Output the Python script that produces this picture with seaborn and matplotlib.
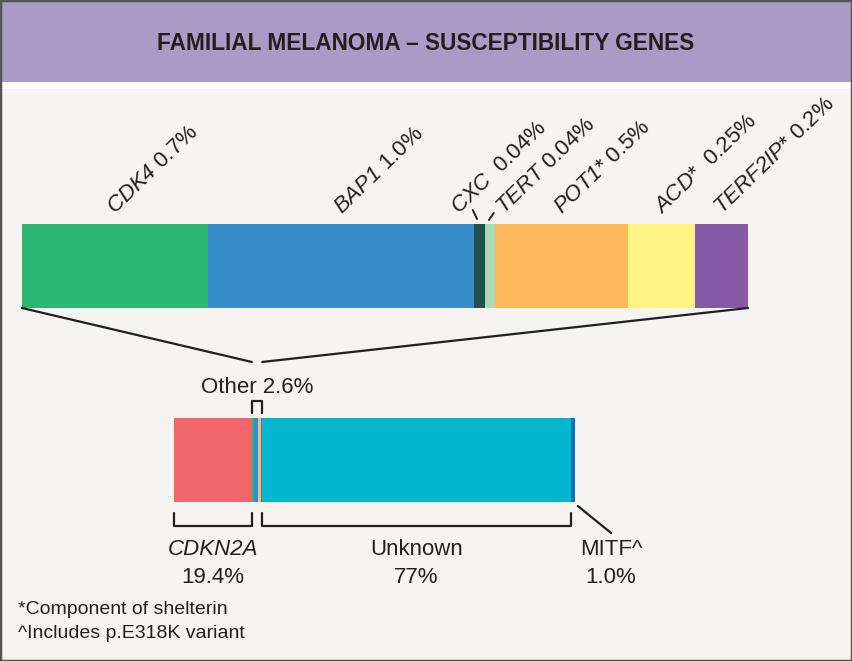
import numpy as np
import pandas as pd
import matplotlib
matplotlib.use("Agg")
import matplotlib.pyplot as plt
import seaborn as sns
from matplotlib.patches import Rectangle, ConnectionPatch

# data
top_genes = ["CDK4", "BAP1", "CXC", "TERT", "POT1", "ACD", "TERF2IP"]
top_marks = ["", "", "", "", "*", "*", "*"]
top_pct = [0.7, 1.0, 0.04, 0.04, 0.5, 0.25, 0.2]
top_pct_text = ["0.7%", "1.0%", "0.04%", "0.04%", "0.5%", "0.25%", "0.2%"]
top_colors = ["#2bb673", "#368bc9", "#22504d", "#a8d9b9", "#feb95b", "#fff385", "#8659a6"]

bottom_groups = ["CDKN2A", "Other", "Unknown", "MITF"]
bottom_pct = [19.4, 2.6, 77, 1.0]
bottom_pct_text = ["19.4%", "2.6%", "77%", "1.0%"]
bottom_colors = ["#f1666a", "#00b7cd", "#0a6fbd"]  # CDKN2A, Unknown, MITF

footnotes = ["*Component of shelterin", "^Includes p.E318K variant"]

sns.set_style("white")
plt.rcParams["font.family"] = ["Liberation Sans", "DejaVu Sans"]
# math parts are only used for gene names -> all italic, digits too
plt.rcParams["mathtext.fontset"] = "custom"
plt.rcParams["mathtext.it"] = "Liberation Sans:italic"
plt.rcParams["mathtext.rm"] = "Liberation Sans:italic"

BG = "#f5f4f0"
INK = "#231f20"
W, H = 852, 661

fig = plt.figure(figsize=(W / 100, H / 100), dpi=100, facecolor=BG)


def stacked_bar(ax, values, colors):
    ends = np.cumsum(values)
    # draw the cumulative totals from longest to shortest so they stack
    for end, c in reversed(list(zip(ends, colors))):
        sns.barplot(x=[end], y=["bar"], color=c, width=1, saturation=1,
                    linewidth=0, ax=ax)
    ax.set_xlim(0, ends[-1])
    ax.set_ylim(0.5, -0.5)
    ax.axis("off")
    return ends


# top bar: breakdown of "Other"
ax_top = fig.add_axes([22 / W, 1 - 308 / H, 726 / W, 84 / H])
top_ends = stacked_bar(ax_top, top_pct, top_colors)
top_starts = top_ends - np.array(top_pct)

# bottom bar: all susceptibility, "Other" split in the same colours
other_split = np.array(top_pct) / sum(top_pct) * bottom_pct[1]
bot_vals = [bottom_pct[0]] + list(other_split) + bottom_pct[2:]
bot_cols = [bottom_colors[0]] + top_colors + bottom_colors[1:]
ax_bot = fig.add_axes([174 / W, 1 - 502 / H, 401 / W, 84 / H])
stacked_bar(ax_bot, bot_vals, bot_cols)
bot_ends = np.cumsum(bottom_pct)
bot_starts = bot_ends - np.array(bottom_pct)

# header band
fig.add_artist(Rectangle((0, 1 - 82 / H), 1, 82 / H, transform=fig.transFigure,
                         facecolor="#a99ac6", edgecolor="none"))
fig.add_artist(Rectangle((0, 1 - 89 / H), 1, 7 / H, transform=fig.transFigure,
                         facecolor="white", edgecolor="none"))
fig.text(0.5, 1 - 44 / H, "FAMILIAL MELANOMA \u2013 SUSCEPTIBILITY GENES",
         ha="center", va="center", fontsize=16.3, fontweight="bold", color=INK)

# rotated labels over the top bar
tr_top = ax_top.get_xaxis_transform()
nudge = {"CXC": -0.08, "TERT": 0.05}
for g, m, s, p, t in zip(top_genes, top_marks, top_starts, top_pct, top_pct_text):
    gap = "  " if g in ("CXC", "ACD") else " "
    x = s + p / 2 + nudge.get(g, 0)
    ax_top.text(x, 1.107, rf"$\mathit{{{g}}}${m}{gap}{t}", transform=tr_top,
                rotation=44, rotation_mode="anchor", ha="left", va="baseline",
                fontsize=16, color=INK)

# small leaders for the thin CXC / TERT slices
ax_top.plot([1.695, 1.711], [1.167, 1.06], transform=tr_top, color=INK, lw=1.4, clip_on=False)
ax_top.plot([1.756, 1.774], [1.048, 1.131], transform=tr_top, color=INK, lw=1.4, clip_on=False)

# zoom lines from top bar to "Other" slice
tr_bot = ax_bot.get_xaxis_transform()
for xa, xb in [(0, bot_starts[1]), (1, bot_ends[1])]:
    con = ConnectionPatch(xyA=(xa, 0), coordsA=ax_top.transAxes,
                          xyB=(xb, 1.667), coordsB=tr_bot, color=INK, lw=1.6)
    fig.add_artist(con)

# "Other" bracket and label
ax_bot.plot([bot_starts[1], bot_starts[1], bot_ends[1], bot_ends[1]],
            [1.06, 1.202, 1.202, 1.06], transform=tr_bot, color=INK, lw=1.6, clip_on=False)
ax_bot.text((bot_starts[1] + bot_ends[1]) / 2, 1.369, f"Other {bottom_pct_text[1]}",
            transform=tr_bot, ha="center", va="center", fontsize=16, color=INK)

# brackets under CDKN2A and Unknown
for i in (0, 2):
    ax_bot.plot([bot_starts[i], bot_starts[i], bot_ends[i], bot_ends[i]],
                [-0.131, -0.286, -0.286, -0.131], transform=tr_bot, color=INK,
                lw=1.6, clip_on=False)

ax_bot.text((bot_starts[0] + bot_ends[0]) / 2, -0.571, bottom_groups[0],
            transform=tr_bot, ha="center", va="center", fontsize=16,
            fontstyle="italic", color=INK)
ax_bot.text((bot_starts[0] + bot_ends[0]) / 2, -0.893, bottom_pct_text[0],
            transform=tr_bot, ha="center", va="center", fontsize=16, color=INK)
ax_bot.text((bot_starts[2] + bot_ends[2]) / 2, -0.571, bottom_groups[2],
            transform=tr_bot, ha="center", va="center", fontsize=16, color=INK)
ax_bot.text((bot_starts[2] + bot_ends[2]) / 2, -0.893, bottom_pct_text[2],
            transform=tr_bot, ha="center", va="center", fontsize=16, color=INK)

# MITF leader and label
mx0, mx1 = bot_ends[3] + 0.7, bot_ends[3] + 9
ax_bot.plot([mx0, mx1], [-0.048, -0.369], transform=tr_bot, color=INK, lw=1.6, clip_on=False)
ax_bot.text(mx1, -0.571, "MITF^", transform=tr_bot, ha="center", va="center",
            fontsize=16, color=INK)
ax_bot.text(mx1, -0.893, bottom_pct_text[3], transform=tr_bot, ha="center",
            va="center", fontsize=16, color=INK)

# footnotes
fig.text(18 / W, 1 - 610 / H, footnotes[0], ha="left", va="center", fontsize=14, color=INK)
fig.text(18 / W, 1 - 634 / H, footnotes[1], ha="left", va="center", fontsize=14, color=INK)

# frame
fig.add_artist(Rectangle((0, 0), 1, 1, transform=fig.transFigure, fill=False,
                         edgecolor="#555555", lw=2.5))

fig.savefig("out.png", dpi=100, facecolor=BG)
